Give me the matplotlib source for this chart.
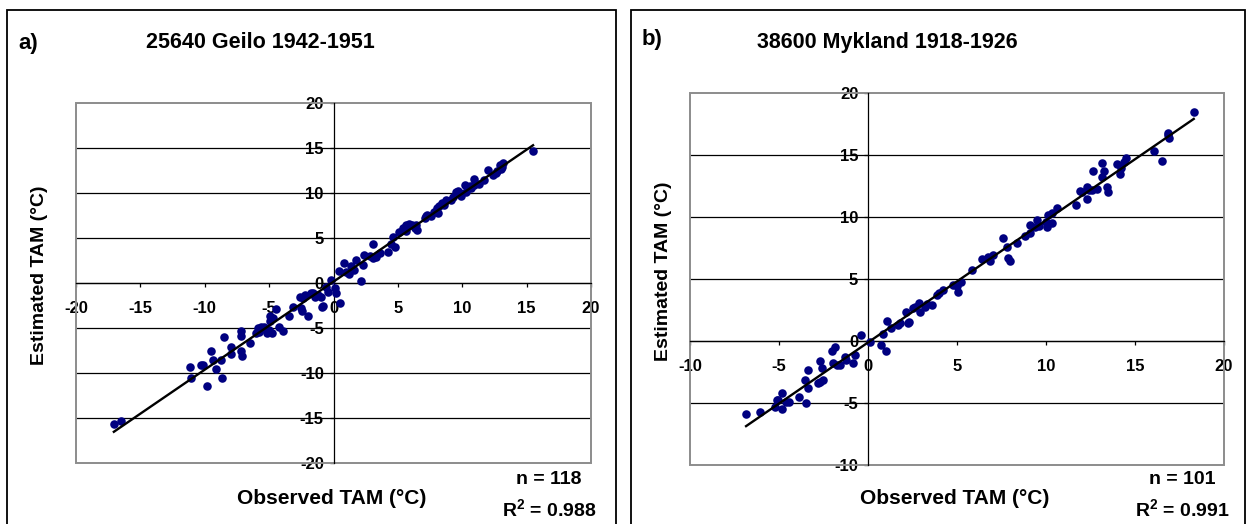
import numpy as np
import matplotlib
matplotlib.use("Agg")
import matplotlib.pyplot as plt
from matplotlib.patches import Rectangle

plt.rcParams["font.family"] = ["Liberation Sans", "DejaVu Sans"]
plt.rcParams["font.weight"] = "bold"
plt.rcParams["mathtext.fontset"] = "custom"
plt.rcParams["mathtext.bf"] = "Liberation Sans:bold"

# Dados lidos da figura
# a) 25640 Geilo 1942-1951
geilo_obs = [15.5, 13.2, 12.9, 12.7, 13.0, 12.4, 13.1, 12.6, 12.0, 11.7, 10.9,
             10.2, 10.6, 10.3, 10.7, 10.9, 9.5, 9.8, 9.3, 9.1, 9.7, 8.75, 8.4,
             8.2, 8.6, 7.8, 7.6, 7.3, 8.0, 7.1, 7.2, 8.1, 6.4, 6.3, 5.9, 5.65,
             5.4, 5.1, 6.5, 6.1, 5.6, 4.66, 4.8, 4.2, 3.6, 3.3, 3.05, 2.85, 3.1,
             2.4, 2.3, 1.76, 1.6, 1.37, 0.98, 0.8, 0.41, 2.15, -0.23, 0.08,
             -0.44, 0.16, -0.96, -1.73, -2.38, -2.0, -0.88, 0.47, -2.5, -2.64,
             -2.25, -1.6, -1.2, -0.6, -17.06, -16.5, -11.18, -11.1, -10.3,
             -10.1, -9.86, -9.5, -9.37, -9.1, -8.67, -8.72, -8.47, -7.95, -7.95,
             -7.17, -7.17, -7.17, -7.1, -6.47, -5.88, -5.6, -5.8, -5.36, -5.2,
             -4.76, -4.9, -4.7, -4.45, -4.2, -3.9, -3.47, -3.16, -2.43, -0.83,
             -5.0, -4.9, -5.7, -6.0, 11.3, 9.9, 4.5, 1.2, -1.4]
geilo_est = [14.7, 13.3, 13.1, 12.4, 12.7, 12.0, 12.9, 12.2, 12.6, 11.4, 11.6,
             10.9, 10.8, 10.1, 10.6, 10.9, 10.1, 10.0, 9.6, 9.2, 10.2, 9.2, 8.9,
             8.6, 8.7, 7.9, 7.4, 7.6, 8.3, 7.2, 7.4, 7.8, 6.4, 6.1, 6.6, 6.4,
             6.1, 5.7, 5.9, 6.5, 5.8, 5.1, 4.0, 3.5, 3.3, 2.9, 4.3, 3.0, 2.8,
             3.1, 2.0, 2.6, 1.44, 1.9, 1.26, 2.2, 1.37, 0.26, 0.33, -0.6,
             -0.96, -1.15, -1.6, -1.15, -1.7, -3.7, -2.7, -2.26, -2.8, -1.5,
             -1.33, -1.07, -1.3, -0.4, -15.7, -15.3, -9.3, -10.6, -9.1,
             -9.15, -11.4, -7.6, -8.55, -9.5, -10.5, -8.55, -6.0, -7.1, -7.9,
             -5.3, -5.9, -7.6, -8.1, -6.7, -5.0, -4.85, -5.4, -4.85, -5.6,
             -5.6, -3.67, -3.9, -2.9, -4.85, -5.3, -3.67, -2.7, -3.07, -2.6,
             -5.2, -4.2, -5.2, -5.6, 11.0, 9.7, 4.3, 1.0, -1.6]

# b) 38600 Mykland 1918-1926
myk_obs = [18.3, 16.87, 16.93, 16.84, 16.07, 16.5, 14.49, 14.38, 14.0, 14.2,
           14.16, 13.13, 13.26, 12.66, 13.13, 13.41, 13.5, 12.85, 12.57, 12.29,
           12.29, 12.0, 11.9, 11.69, 10.6, 10.32, 10.13, 10.04, 10.32, 9.48,
           9.38, 9.1, 9.1, 10.0, 9.6, 8.35, 7.57, 7.79, 7.88, 7.98, 7.04, 6.76,
           6.85, 6.39, 5.82, 5.22, 5.07, 4.79, 5.0, 4.2, 4.0, 3.86, 3.58, 3.2,
           2.88, 2.92, 2.55, 2.13, 2.26, 1.8, 3.3, 2.64, 2.32, 1.7, 1.28, 1.08,
           0.82, 0.71, 1.01, 0.11, -0.39, -0.82, -1.24, -1.76, -1.85, -2.04,
           -1.98, -2.6, -2.7, -2.7, -2.55, -2.8, -3.35, -3.54, -3.35, -3.9,
           -4.85, -5.04, -6.85, -6.07, -5.22, -5.09, -4.81, -4.42, -3.48,
           -1.57, -0.73, -1.3, 12.4, 8.8, -4.6]
myk_est = [18.5, 16.75, 16.4, 16.6, 15.35, 14.5, 14.73, 14.46, 14.27, 13.92,
           13.47, 14.38, 13.73, 13.73, 13.2, 12.4, 12.04, 12.23, 12.18, 12.4,
           11.43, 12.04, 12.12, 10.97, 10.7, 10.3, 10.16, 9.22, 9.49, 9.76,
           9.22, 9.35, 8.68, 9.6, 9.3, 7.88, 8.33, 7.6, 6.67, 6.45, 6.94, 6.8,
           6.45, 6.59, 5.73, 4.78, 3.98, 4.52, 4.4, 4.11, 3.85, 3.71, 2.9, 2.77,
           3.09, 2.36, 2.64, 2.36, 1.48, 1.43, 2.98, 2.77, 1.56, 1.29, 1.02,
           1.64, 0.56, -0.32, -0.78, -0.05, 0.48, -1.75, -1.53, -1.94, -0.46,
           -0.78, -1.75, -2.2, -1.59, -3.28, -3.15, -3.36, -2.34, -3.15, -3.81,
           -4.49, -4.17, -4.76, -5.91, -5.7, -5.35, -4.76, -5.46, -4.89, -5.03,
           -1.94, -1.13, -1.3, 12.2, 8.5, -4.9]

paineis = [
    dict(letra="a)", titulo="25640 Geilo 1942-1951", obs=geilo_obs, est=geilo_est,
         lim=(-20, 20, -20, 20), n="n = 118", r2=r"R$^{\mathbf{2}}$ = 0.988"),
    dict(letra="b)", titulo="38600 Mykland 1918-1926", obs=myk_obs, est=myk_est,
         lim=(-10, 20, -10, 20), n="n = 101", r2=r"R$^{\mathbf{2}}$ = 0.991"),
]

W, H = 1248, 524
fig = plt.figure(figsize=(W / 100, H / 100), dpi=100)


def fx(px):
    return px / W


def fy(py):
    return 1 - py / H


# posicoes em pixels: (caixa externa), (area do grafico), (textos)
caixas = [(7, 616), (631, 1245)]
areas = [(76, 591, 103, 463), (690, 1224, 93, 465)]
letras = [(18, 44), (642, 39)]
titulos = [(260, 43), (887, 43)]
ylab_x = [40, 664]
stats_x = [549, 1182]

for i, p in enumerate(paineis):
    # moldura do painel
    x0, x1 = caixas[i]
    fig.add_artist(Rectangle((fx(x0), fy(540)), fx(x1 - x0), fy(10) - fy(540),
                             fill=False, edgecolor="black", lw=1.3,
                             transform=fig.transFigure))

    l, r, t, b = areas[i]
    ax = fig.add_axes([fx(l), fy(b), fx(r - l), fy(t) - fy(b)])
    xmin, xmax, ymin, ymax = p["lim"]
    ax.set_xlim(xmin, xmax)
    ax.set_ylim(ymin, ymax)

    xt = np.arange(xmin, xmax + 1, 5)
    yt = np.arange(ymin, ymax + 1, 5)
    for yv in yt[1:-1]:
        ax.axhline(yv, color="black", lw=0.9, zorder=1)

    for s in ["top", "right"]:
        ax.spines[s].set_visible(False)
    ax.spines["left"].set_position(("data", 0))
    ax.spines["bottom"].set_position(("data", 0))
    ax.spines["left"].set_linewidth(0.9)
    ax.spines["bottom"].set_linewidth(0.9)
    ax.add_patch(Rectangle((0, 0), 1, 1, transform=ax.transAxes, fill=False,
                           edgecolor="#8c8c8c", lw=1.4, zorder=2, clip_on=False))

    ax.set_xticks(xt)
    ax.set_yticks(yt)
    ax.set_xticklabels([str(v) for v in xt])
    ax.set_yticklabels([str(v) for v in yt])
    ax.tick_params(axis="x", direction="out", length=3, width=0.9, pad=10,
                   labelsize=12)
    ax.tick_params(axis="y", direction="out", length=3, width=0.9, pad=4,
                   labelsize=12)
    for lab in ax.get_xticklabels() + ax.get_yticklabels():
        lab.set_fontweight("bold")

    # pontos e reta de regressao
    obs = np.array(p["obs"])
    est = np.array(p["est"])
    ax.scatter(obs, est, s=38, color="#000080", zorder=4, linewidths=0)
    a, c = np.polyfit(obs, est, 1)
    xs = np.array([obs.min(), obs.max()])
    ax.plot(xs, a * xs + c, color="black", lw=1.7, zorder=5)

    # textos
    lx, ly = letras[i]
    fig.text(fx(lx), fy(ly), p["letra"], fontsize=16, fontweight="bold",
             ha="left", va="center")
    tx, ty = titulos[i]
    fig.text(fx(tx), fy(ty), p["titulo"], fontsize=15.5, fontweight="bold",
             ha="center", va="center")
    fig.text(fx(ylab_x[i]), fy((t + b) / 2 - 8), "Estimated TAM (°C)",
             fontsize=14, fontweight="bold", rotation=90, ha="center",
             va="center")
    fig.text(fx((l + r) / 2 - 2), fy(498), "Observed TAM (°C)", fontsize=15,
             fontweight="bold", ha="center", va="center")
    fig.text(fx(stats_x[i]), fy(479), p["n"], fontsize=14, fontweight="bold",
             ha="center", va="center")
    fig.text(fx(stats_x[i]), fy(510), p["r2"], fontsize=14, fontweight="bold",
             ha="center", va="center")

fig.savefig("out.png", dpi=100, facecolor="white")
